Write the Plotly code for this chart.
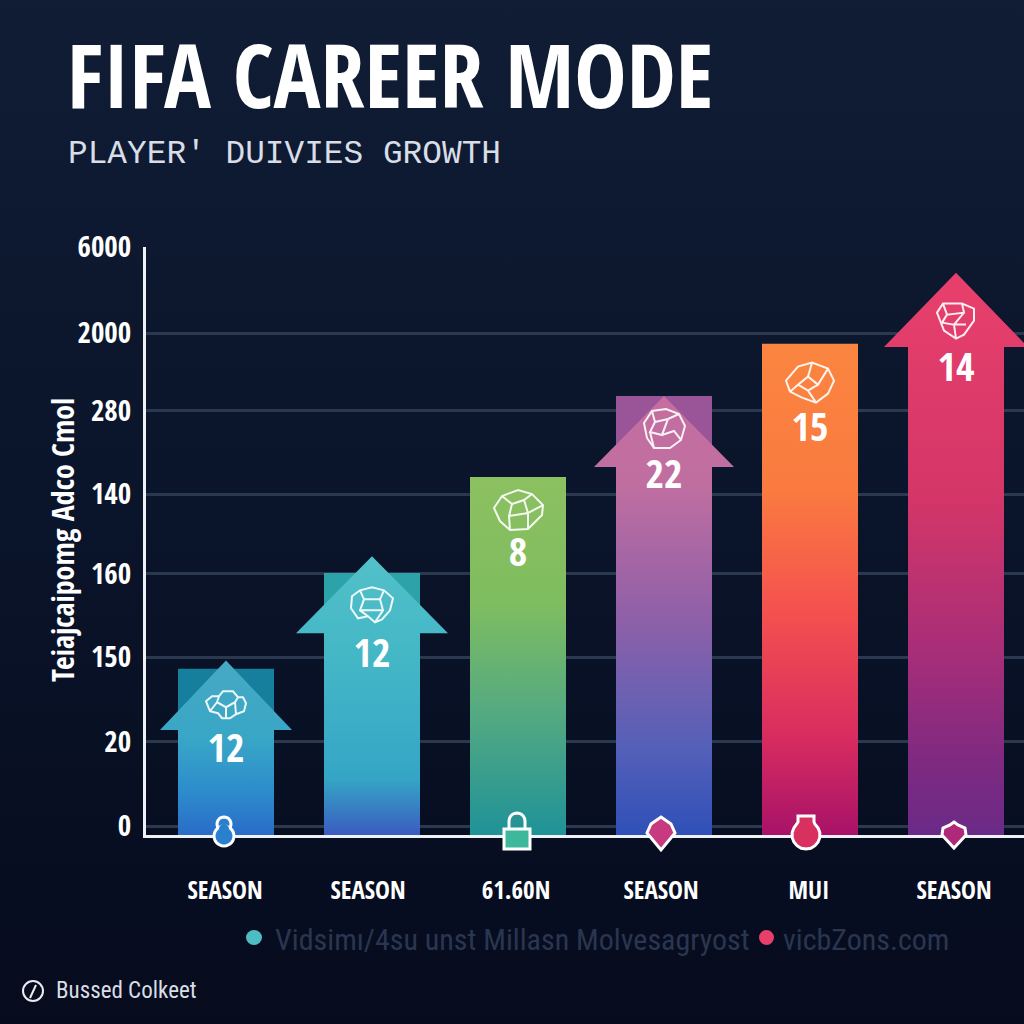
import math
import plotly.graph_objects as go

# ---------- data ----------
season_labels = ["SEASON", "SEASON", "61.60N", "SEASON", "MUI", "SEASON"]
y_tick_labels = ["0", "20", "150", "160", "140", "280", "2000", "6000"]
y_tick_rows = [0, 1.016, 2.04, 3.05, 4.01, 5.02, 5.96, 7.0]
bar_numbers = ["12", "12", "8", "22", "15", "14"]
# heights in tick-row units (the value axis has evenly spaced rows)
bar_tops = [1.90, 3.06, 4.22, 5.20, 5.83, 5.79]
arrow_tips = [2.00, 3.26, None, 5.20, None, 6.69]
arrow_shoulders = [1.16, 2.33, None, 4.34, None, 5.79]
number_rows = [0.90, 2.04, 3.26, 4.21, 4.77, 5.50]
icon_rows = [1.46, 2.68, 3.82, 4.80, 5.36, 6.11]

# ---------- style ----------
PX_X = 146.0          # px per category
PX_Y = 82.7           # px per row
BAR_W = 96 / PX_X
HEAD_HALF = [66 / PX_X, 76 / PX_X, 0, 70 / PX_X, 0, 72 / PX_X]
Y_MIN = -9 / PX_Y
FONT = "Open Sans Condensed"
THIN = "Roboto Condensed"
LABEL_SHIFT_PX = [-1, -4, -2, -3, -1, -2]
BACK_COLORS = ["#177f9e", "#2ba3a9", None, "#9a5498", None, None]
GRADIENTS = [
    [[0, "#2a6cc8"], [0.25, "#2d8ccc"], [0.55, "#38a6c6"], [1, "#46aac3"]],
    [[0, "#3a5cc0"], [0.2, "#35a5c6"], [0.6, "#42b6c6"], [1, "#52c0c8"]],
    [[0, "#1f9298"], [0.35, "#55aa80"], [0.65, "#7fbd60"], [1, "#8cc060"]],
    [[0, "#2f50b8"], [0.2, "#5560b8"], [0.5, "#9060a8"], [0.8, "#c06ea0"], [1, "#c56ea0"]],
    [[0, "#a81268"], [0.2, "#d82c60"], [0.45, "#f4504f"], [0.7, "#fa7a40"], [1, "#fb8540"]],
    [[0, "#6b2a88"], [0.13, "#7e2a80"], [0.33, "#a82e78"], [0.6, "#d43668"], [1, "#e8406c"]],
]

fig = go.Figure()

# page background (full-canvas hidden axes)
fig.add_trace(go.Scatter(
    x=[0, 1, 1, 0, 0], y=[0, 0, 1, 1, 0], mode="none", fill="toself",
    fillgradient=dict(type="vertical", colorscale=[[0, "#060b1d"], [0.5, "#0a142a"], [1, "#101d35"]]),
    xaxis="x", yaxis="y", hoverinfo="skip", showlegend=False))


def add_poly(xs, ys, **fill):
    fig.add_trace(go.Scatter(x=xs, y=ys, mode="none", fill="toself", xaxis="x2", yaxis="y2",
                             hoverinfo="skip", showlegend=False, **fill))


for i, top in enumerate(bar_tops):
    l, r = i - BAR_W / 2, i + BAR_W / 2
    tip = arrow_tips[i]
    if tip is None:
        add_poly([l, r, r, l, l], [Y_MIN, Y_MIN, top, top, Y_MIN],
                 fillgradient=dict(type="vertical", colorscale=GRADIENTS[i]))
        continue
    if BACK_COLORS[i]:
        add_poly([l, r, r, l, l], [Y_MIN, Y_MIN, top, top, Y_MIN], fillcolor=BACK_COLORS[i])
    s, h = arrow_shoulders[i], HEAD_HALF[i]
    add_poly([l, r, r, i + h, i, i - h, l, l],
             [Y_MIN, Y_MIN, s, s, tip, s, s, Y_MIN],
             fillgradient=dict(type="vertical", colorscale=GRADIENTS[i]))

# numbers on the bars
fig.add_trace(go.Scatter(
    x=list(range(6)), y=number_rows, text=bar_numbers, mode="text", xaxis="x2", yaxis="y2",
    textfont=dict(family=FONT, size=40, color="white", weight="bold"),
    hoverinfo="skip", showlegend=False))

layout_shapes = []


def icon(i, outer, inner, color="rgba(255,255,255,0.9)"):
    d = "M" + " L".join(f"{x},{y}" for x, y in outer) + " Z"
    for seg in inner:
        d += " M" + " L".join(f"{x},{y}" for x, y in seg)
    layout_shapes.append(dict(
        type="path", path=d, xref="x2", yref="y2", xsizemode="pixel", ysizemode="pixel",
        xanchor=i, yanchor=icon_rows[i], line=dict(color=color, width=2)))


icon(0, [(-20, 4), (-14, 9), (-7, 9), (-3, 14), (7, 14), (12, 8), (17, 8), (20, 2), (18, -6), (10, -9), (4, -13), (-4, -13), (-8, -8), (-16, -6)],
     [[(-7, 9), (-9, 3), (0, -2), (9, 3), (12, 8)], [(0, -2), (0, -13)], [(-9, 3), (-16, -6)], [(9, 3), (10, -9)]])
icon(1, [(-20, 8), (-12, 14), (0, 17), (12, 14), (21, 6), (18, -6), (10, -15), (3, -18), (-4, -12), (-14, -14), (-21, -4)],
     [[(-12, 14), (-8, 5), (8, 5), (12, 14)], [(-8, 5), (-12, -6), (-4, -12)], [(8, 5), (11, -6), (3, -18)], [(-12, -6), (11, -6)]])
icon(2, [(-24, 2), (-16, 14), (0, 20), (14, 16), (25, 5), (24, -5), (10, -19), (-8, -20), (-18, -11)],
     [[(-16, 14), (-6, 6), (6, 10), (14, 16)], [(-6, 6), (-9, -6), (-8, -20)], [(6, 10), (10, -3), (10, -19)], [(-9, -6), (10, -3), (25, 5)]])
icon(3, [(-20, 6), (-12, 18), (2, 20), (15, 15), (21, 3), (17, -11), (6, -19), (-10, -19), (-17, -9)],
     [[(-12, 18), (-9, 7), (4, 10), (15, 15)], [(-9, 7), (-14, -3), (-2, -6), (4, 10)], [(-2, -6), (10, -2), (17, -11)], [(-14, -3), (-10, -19)]])
icon(4, [(-24, 2), (-12, 16), (2, 20), (18, 14), (24, 2), (18, -11), (6, -20), (-8, -15), (-20, -9)],
     [[(2, 20), (-2, 6), (8, -2), (18, 14)], [(-2, 6), (-12, -2), (-20, -9)], [(-12, -2), (-2, -8), (8, -2)], [(-2, -8), (6, -20)]])
icon(5, [(-19, 8), (-13, 17), (6, 17), (18, 12), (18, 0), (8, -14), (0, -18), (-12, -10)],
     [[(-13, 17), (-9, 6), (8, 8), (6, 17)], [(-9, 6), (-14, -2), (-2, -4), (8, 8)], [(-2, -4), (10, -4)], [(-2, -4), (0, -18)]])


def circle(cx, cy, r, n=28):
    pts = [(round(cx + r * math.cos(2 * math.pi * k / n), 1), round(cy + r * math.sin(2 * math.pi * k / n), 1))
           for k in range(n)]
    return pts


def path_of(pts, close=True):
    return "M" + " L".join(f"{x},{y}" for x, y in pts) + (" Z" if close else "")


def marker(px, path, fill=None, width=3):
    s = dict(type="path", path=path, xref="paper", yref="paper", xsizemode="pixel", ysizemode="pixel",
             xanchor=px / 1024, yanchor=1 - 835 / 1024, line=dict(color="white", width=width))
    if fill:
        s["fillcolor"] = fill
    layout_shapes.append(s)


# keyhole: outline of both circles first, then a white-free fill over the seam
marker(224, path_of(circle(0, 11, 7)), "#2a80cc")
marker(224, path_of(circle(0, -1, 10)), "#2a80cc")
layout_shapes.append(dict(type="path", path=path_of(circle(0, 6, 5)), xref="paper", yref="paper",
                          xsizemode="pixel", ysizemode="pixel", xanchor=224 / 1024, yanchor=1 - 835 / 1024,
                          fillcolor="#2a80cc", line=dict(width=0)))
hook = [(-8, 6)] + [(round(8 * math.cos(math.pi * (1 - k / 10)), 1), round(14 + 8 * math.sin(math.pi * k / 10), 1))
                    for k in range(11)] + [(8, 6)]
marker(517, path_of(hook, close=False))
marker(517, path_of([(-13, 6), (13, 6), (13, -14), (-13, -14)]), "#3db89a")
marker(661, path_of([(0, 18), (10, 11), (14, 2), (0, -15), (-14, 2), (-10, 11)]), "#c83a80")
bottle = [(-8, 19), (8, 19), (8, 13)] + [(round(14 * math.cos(a), 1), round(14 * math.sin(a), 1)) for a in
                                         [math.radians(d) for d in range(50, -230, -20)]] + [(-8, 13)]
marker(806, path_of(bottle), "#d8305f")
marker(954, path_of([(0, 13), (4, 10), (11, 7), (12, 0), (0, -13), (-12, 0), (-11, 7), (-4, 10)]), "#b0287a")

# footer icon
layout_shapes.append(dict(type="circle", xref="paper", yref="paper",
                          x0=23 / 1024, x1=43 / 1024, y0=1 - 1001 / 1024, y1=1 - 981 / 1024,
                          line=dict(color="#e8ecf2", width=2)))
layout_shapes.append(dict(type="line", xref="paper", yref="paper",
                          x0=30 / 1024, x1=36 / 1024, y0=1 - 998 / 1024, y1=1 - 985 / 1024,
                          line=dict(color="#e8ecf2", width=2)))
# legend dots
layout_shapes.append(dict(type="circle", xref="paper", yref="paper", fillcolor="#4fbcc4", line_width=0,
                          x0=246 / 1024, x1=262 / 1024, y0=1 - 945 / 1024, y1=1 - 930 / 1024))
layout_shapes.append(dict(type="circle", xref="paper", yref="paper", fillcolor="#e83e6a", line_width=0,
                          x0=759 / 1024, x1=774 / 1024, y0=1 - 945 / 1024, y1=1 - 930 / 1024))


def text(s, x, y, size, color="white", weight="normal", family=FONT, anchor="left", **kw):
    return dict(text=s, xref="paper", yref="paper", x=x / 1024, y=1 - y / 1024, xanchor=anchor, yanchor="middle",
                showarrow=False, font=dict(family=family, size=size, color=color, weight=weight), **kw)


annotations = [
    text("FIFA CAREER MODE", 65, 74, 88, weight="bold"),
    text("PLAYER' DUIVIES GROWTH", 66, 154, 32.8, color="#d8dde6", family="Liberation Mono"),
    text("Teiajcaipomg Adco Cmol", 62, 540, 30, weight="bold", anchor="center", textangle=-90),
    text("Vidsimı/4su unst Millasn Molvesagryost", 273, 939, 30, color="#2a3650", family=THIN),
    text("vicbZons.com", 781, 939, 30, color="#2a3650", family=THIN),
    text("Bussed Colkeet", 54, 990, 23, color="#d8dde6", family=THIN),
]

fig.update_layout(
    width=1024, height=1024, margin=dict(l=0, r=0, t=0, b=0, autoexpand=False),
    paper_bgcolor="#0a142a", plot_bgcolor="rgba(0,0,0,0)", showlegend=False,
    xaxis=dict(domain=[0, 1], range=[0, 1], visible=False),
    yaxis=dict(domain=[0, 1], range=[0, 1], visible=False),
    xaxis2=dict(domain=[146 / 1024, 1], range=[(146 - 226) / PX_X, (1024 - 226) / PX_X], anchor="y2",
                tickvals=[i + d / PX_X for i, d in enumerate(LABEL_SHIFT_PX)], ticktext=season_labels,
                showgrid=False, zeroline=False,
                showline=True, linecolor="#eef1f5", linewidth=3,
                ticks="outside", ticklen=31, tickcolor="rgba(0,0,0,0)",
                tickfont=dict(family=FONT, size=25, color="white", weight="bold")),
    yaxis2=dict(domain=[189 / 1024, 777 / 1024], range=[Y_MIN, 7], anchor="x2",
                tickvals=y_tick_rows, ticktext=y_tick_labels, showgrid=True, gridcolor="#2a3850", gridwidth=3,
                zeroline=False, showline=True, linecolor="#eef1f5", linewidth=3,
                ticks="outside", ticklen=6, tickcolor="rgba(0,0,0,0)",
                tickfont=dict(family=FONT, size=29, color="white", weight="bold")),
    shapes=layout_shapes, annotations=annotations,
)

fig.write_html("out.html", config=dict(displayModeBar=False),
               post_script="document.body.style.margin='0';document.body.style.overflow='hidden';")
